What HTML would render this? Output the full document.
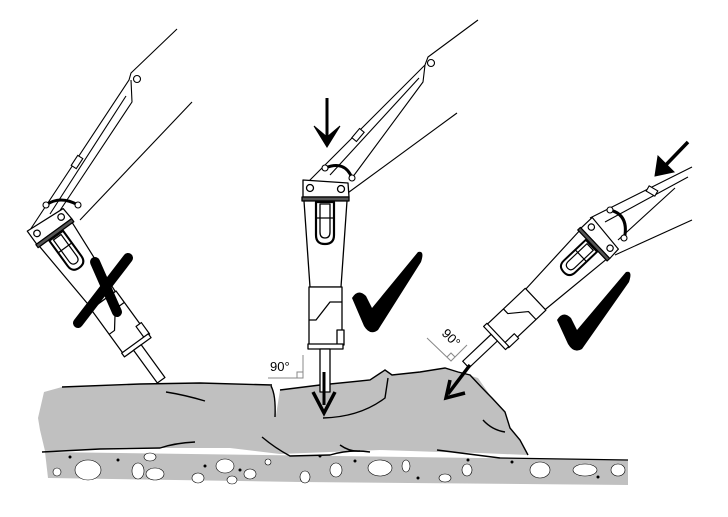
<!DOCTYPE html>
<html><head><meta charset="utf-8"><style>
html,body{margin:0;padding:0;background:#fff;width:728px;height:517px;overflow:hidden}
svg{display:block}
text{font-family:"Liberation Sans",sans-serif}
</style></head><body>
<svg width="728" height="517" viewBox="0 0 728 517" xmlns="http://www.w3.org/2000/svg">
<defs>
<g id="ham" fill="#fff" stroke="#000" stroke-width="1.3" stroke-linejoin="round">
  <path d="M-22,0 L23,3 L24,17 L-22,17 Z"/>
  <circle cx="-15" cy="8" r="3.5"/><circle cx="16" cy="9" r="3.5"/>
  <rect x="-23" y="17" width="47" height="4" fill="#555"/>
  <path d="M-21,21 L22,21 L16,107 L-15,107 Z"/>
  <path d="M-9,22 L9,22 L9,55 Q9,64 0,64 Q-9,64 -9,55 Z" stroke-width="2.2"/>
  <path d="M-5,24 L5,24 L5,52 Q5,58 0,58 Q-5,58 -5,52 Z"/>
  <line x1="-9" y1="38" x2="9" y2="38"/>
  <path d="M-16,107 L17,107 L17,168 L-16,168 Z"/>
  <path d="M-16,140 L-9,140 L5,122 L17,122" fill="none"/>
  <rect x="12" y="150" width="7" height="15"/>
  <rect x="-17" y="164" width="35" height="5"/>
  <rect x="-5" y="169" width="10" height="43"/>
</g>
</defs>

<!-- gravel -->
<path d="M45,452 L628,460 L628,485 L300,482 L48,478 Z" fill="#c0c0c0"/>
<g fill="#fff" stroke="#000" stroke-width="0.6">
<ellipse cx="88" cy="470" rx="13" ry="10"/><ellipse cx="57" cy="472" rx="4" ry="4"/>
<ellipse cx="138" cy="471" rx="6" ry="8"/><ellipse cx="155" cy="474" rx="9" ry="6"/>
<ellipse cx="225" cy="466" rx="9" ry="7"/><ellipse cx="198" cy="478" rx="6" ry="5"/>
<ellipse cx="268" cy="462" rx="3" ry="3"/><ellipse cx="305" cy="477" rx="5" ry="6"/>
<ellipse cx="336" cy="470" rx="6" ry="7"/><ellipse cx="380" cy="468" rx="12" ry="8"/>
<ellipse cx="406" cy="466" rx="4" ry="6"/><ellipse cx="467" cy="470" rx="5" ry="6"/>
<ellipse cx="445" cy="478" rx="6" ry="4"/><ellipse cx="540" cy="470" rx="10" ry="8"/>
<ellipse cx="585" cy="470" rx="12" ry="6"/><ellipse cx="618" cy="470" rx="7" ry="6"/>
<ellipse cx="232" cy="480" rx="5" ry="4"/><ellipse cx="250" cy="474" rx="6" ry="5"/>
<ellipse cx="150" cy="457" rx="6" ry="4"/>
</g>
<g fill="#000"><circle cx="70" cy="457" r="1.5"/><circle cx="118" cy="460" r="1.5"/><circle cx="205" cy="466" r="1.5"/><circle cx="240" cy="470" r="1.5"/><circle cx="320" cy="456" r="1.5"/><circle cx="355" cy="461" r="1.5"/><circle cx="418" cy="478" r="1.5"/><circle cx="468" cy="460" r="1.5"/><circle cx="512" cy="462" r="1.5"/><circle cx="598" cy="477" r="1.5"/></g>
<line x1="500" y1="458" x2="628" y2="460" stroke="#000" stroke-width="1.2"/>

<!-- rock slab -->
<path d="M62,387 L140,384 L200,383 L272,385 L276,415 L280,390 L320,385 L370,380 L385,370 L392,375 L420,372 L445,368 L458,372 L478,378 L492,398 L505,412 L510,428 L520,440 L528,455 L480,453 L440,452 L380,450 L330,452 L280,454 L230,448 L160,448 L100,449 L45,451 L40,430 L38,418 L44,392 Z" fill="#c0c0c0"/>
<g fill="none" stroke="#000" stroke-width="1.4">
<path d="M62,387 L140,384 L200,383 L272,385"/>
<path d="M166,392 Q185,395 205,401"/>
<path d="M271,386 Q276,395 275,417"/>
<path d="M280,390 L320,385 L370,380 L385,370 L392,375 L420,372 L445,368 L458,372 L470,375 Q482,388 492,398 L505,412 L510,428 L520,440 L528,455"/>
<path d="M323,418 Q360,417 385,398 L388,378"/>
<path d="M42,452 L100,449 L160,448 Q175,443 195,442"/>
<path d="M262,437 Q275,448 290,456 L330,455 Q350,449 370,452"/>
<path d="M340,445 Q350,452 360,451"/>
<path d="M437,450 L500,458"/>
<path d="M483,420 Q492,430 505,432"/>
</g>

<!-- booms left -->
<g fill="none" stroke="#000" stroke-width="1.1">
<path d="M177,29 L131,73 L129,80 L30,230"/>
<path d="M131,80 L132,102 L55,218"/>
<path d="M126,96 L50,214"/>
<path d="M192,102 L80,220"/>
<rect x="-3" y="-6" width="6" height="12" transform="translate(77,162) rotate(33)" fill="#fff"/>
<circle cx="137" cy="79" r="3.5" fill="#fff"/>
</g>
<!-- booms center -->
<g fill="none" stroke="#000" stroke-width="1.1">
<path d="M478,20 L428,57 L425,65 L308,182"/>
<path d="M425,65 L423,82 L352,178"/>
<path d="M419,78 L330,175"/>
<path d="M457,113 L345,195"/>
<rect x="-3" y="-6" width="6" height="12" transform="translate(358,135) rotate(40)" fill="#fff"/>
<circle cx="431" cy="63" r="3.5" fill="#fff"/>
</g>
<!-- booms right -->
<g fill="none" stroke="#000" stroke-width="1.1">
<path d="M692,167 L590,218"/>
<path d="M688,177 L605,222"/>
<path d="M675,188 L618,240"/>
<path d="M692,220 L615,255"/>
<rect x="-3" y="-5" width="6" height="10" transform="translate(652,191) rotate(-60)" fill="#fff"/>
</g>

<!-- hammers -->
<use href="#ham" transform="translate(44,219) rotate(-36) scale(0.94)"/>
<use href="#ham" transform="translate(325,180)"/>
<use href="#ham" transform="translate(606,232) rotate(46.6) scale(0.91)"/>

<!-- link details -->
<g fill="#fff" stroke="#000" stroke-width="1.1">
<path d="M46,205 Q60,195 78,205" fill="none" stroke-width="3"/>
<circle cx="46" cy="205" r="3"/><circle cx="78" cy="205" r="3"/>
<path d="M325,168 Q345,160 352,178" fill="none" stroke-width="3"/>
<circle cx="325" cy="168" r="3"/><circle cx="352" cy="178" r="3"/>
<path d="M610,210 Q630,215 624,240" fill="none" stroke-width="3"/>
<circle cx="610" cy="210" r="3"/><circle cx="624" cy="238" r="3"/>
</g>

<!-- arrows -->
<g fill="#000" stroke="#000">
<line x1="327" y1="98" x2="327" y2="140" stroke-width="3"/>
<path d="M314,126 L327,147 L340,126 L327,137 Z" stroke-width="1"/>
<line x1="688" y1="142" x2="661" y2="170" stroke-width="3.5"/>
<path d="M658,156 L655,176 L674,172 Z" stroke-width="1"/>
<line x1="324" y1="372" x2="324" y2="405" stroke-width="3"/>
<path d="M313,392 L324,413 L335,392" fill="none" stroke-width="3.5"/>
<line x1="470" y1="365" x2="448" y2="394" stroke-width="3.5"/>
<path d="M450,380 L446,398 L465,393" fill="none" stroke-width="3.5"/>
</g>

<!-- checks & cross -->
<g fill="#000">
<path d="M352,298 Q358,288 366,296 L372,308 L418,252 Q425,250 421,262 L378,330 Q370,336 364,326 Z"/>
<path d="M557,320 Q563,310 571,318 L577,330 L626,272 Q633,270 629,282 L582,349 Q574,354 568,344 Z"/>
</g>
<g stroke="#000" stroke-width="10" stroke-linecap="round">
<line x1="78" y1="323" x2="128" y2="258"/>
<line x1="95" y1="262" x2="117" y2="312"/>
</g>

<!-- 90 labels -->
<text x="270" y="371" font-size="13">90°</text>
<path d="M303,355 L303,378 L268,378 M297,378 L297,372 L303,372" fill="none" stroke="#888" stroke-width="1"/>
<text x="0" y="0" font-size="13" transform="translate(441,334) rotate(45)">90°</text>
<path d="M427,338 L451,361 L467,345 M447,357 L451,353 L455,357" fill="none" stroke="#888" stroke-width="1"/>
</svg>
</body></html>
